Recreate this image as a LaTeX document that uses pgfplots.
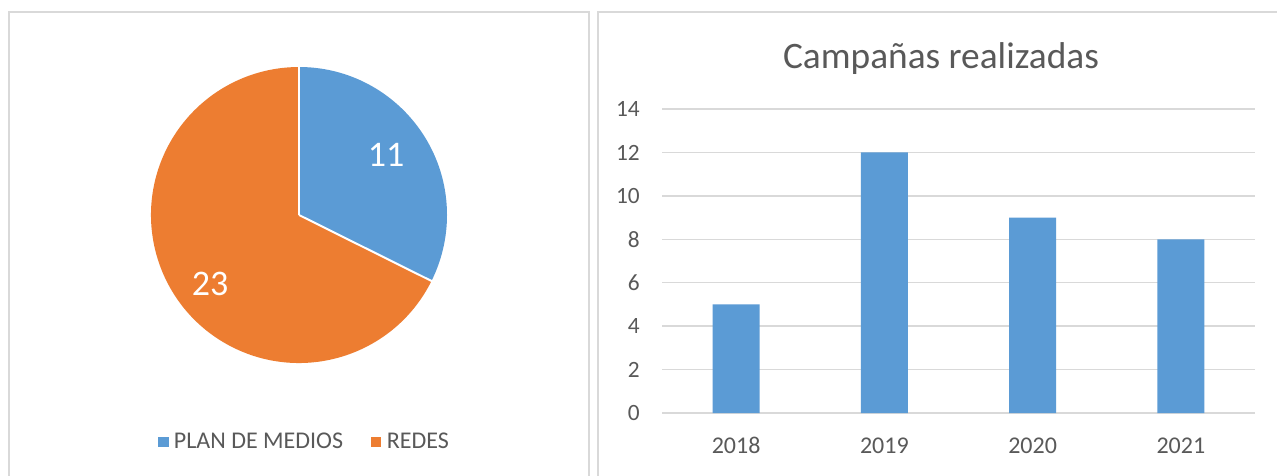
\documentclass[border=0pt]{standalone}
\usepackage{fontspec}
\setmainfont{Carlito}
\usepackage{pgfplots}
\usetikzlibrary{calc}
\pgfplotsset{compat=1.18}
\definecolor{blueC}{HTML}{5B9BD5}
\definecolor{orangeC}{HTML}{ED7D31}
\definecolor{textC}{HTML}{595959}
\definecolor{gridC}{HTML}{D9D9D9}
\definecolor{borderC}{HTML}{D9D9D9}
% pie data
\def\vA{11}
\def\vB{23}
\begin{document}
\begin{tikzpicture}
\path[use as bounding box] (0,0) rectangle (957.75pt,-356.25pt);
\fill[white] (0,0) rectangle (957.75pt,-356.25pt);
% panel borders
\begin{scope}[x=0.75pt,y=-0.75pt]
\draw[borderC, line width=1.1pt] (9,480) -- (9,12) -- (589,12) -- (589,480);
\draw[borderC, line width=1.1pt] (598,480) -- (598,12) -- (1285,12);
\end{scope}
% ---------- pie ----------
\pgfmathsetmacro{\angA}{360*\vA/(\vA+\vB)}
\pgfmathsetmacro{\endA}{90-\angA}
\begin{axis}[
  at={(224.25pt,-161.25pt)}, anchor=center,
  scale only axis, width=222pt, height=222pt,
  xmin=-1, xmax=1, ymin=-1, ymax=1,
  hide axis, clip=false,
  legend style={draw=none, fill=none, at={(axis description cs:0.52,-0.265)}, anchor=center,
    font=\fontsize{18pt}{21pt}\selectfont, text=textC,
    /tikz/every even column/.append style={column sep=19pt}},
  legend columns=2,
]
\fill[blueC] (axis cs:0,0) -- (axis cs:0,1) arc[start angle=90, end angle=\endA, radius=111pt] -- cycle;
\fill[orangeC] (axis cs:0,0) -- ($(axis cs:0,0)+(\endA:111pt)$) arc[start angle=\endA, end angle=-270, radius=111pt] -- cycle;
\draw[white, line width=1.5pt] (axis cs:0,0) -- (axis cs:0,1);
\draw[white, line width=1.5pt] (axis cs:0,0) -- ++(\endA:111.5pt);
\node[white, anchor=base, font=\fontsize{27pt}{32pt}\selectfont] at (axis cs:0.588,0.331) {11};
\node[white, anchor=base, font=\fontsize{27pt}{32pt}\selectfont] at (axis cs:-0.601,-0.547) {23};
\addlegendimage{legend image code/.code={\path[draw=none,fill=none] (0pt,0pt) -- (9.5pt,0pt);\fill[blueC] (0pt,-3.5pt) rectangle (7pt,3.5pt);}}
\addlegendentry{PLAN DE MEDIOS}
\addlegendimage{legend image code/.code={\path[draw=none,fill=none] (0pt,0pt) -- (9.5pt,0pt);\fill[orangeC] (0pt,-3.5pt) rectangle (7pt,3.5pt);}}
\addlegendentry{REDES}
\end{axis}
% ---------- bars ----------
\begin{axis}[
  at={(496.5pt,-309.75pt)}, anchor=south west,
  scale only axis, width=444.75pt, height=228pt,
  xmin=-0.5, xmax=3.5, ymin=0, ymax=14,
  ytick={0,2,...,14},
  xtick={0,1,2,3}, xticklabels={2018,2019,2020,2021},
  axis line style={draw=none}, major tick length=0pt,
  ymajorgrids, grid style={draw=gridC, line width=1.1pt},
  tick label style={text=textC},
  yticklabel style={font=\fontsize{17.5pt}{21pt}\selectfont, inner sep=0pt, anchor=east, xshift=-16.5pt,
     /pgf/number format/assume math mode=true},
  xticklabel style={font=\fontsize{18pt}{21pt}\selectfont, inner sep=0pt, anchor=base, yshift=-30pt},
  title={Campañas realizadas},
  title style={at={(axis description cs:0.4705,1.108)}, anchor=base, text=textC,
     font=\fontsize{28pt}{34pt}\selectfont},
]
\addplot[ybar, fill=blueC, draw=none, bar width=35.25pt] coordinates {(0,5) (1,12) (2,9) (3,8)};
\end{axis}
\end{tikzpicture}
\end{document}
